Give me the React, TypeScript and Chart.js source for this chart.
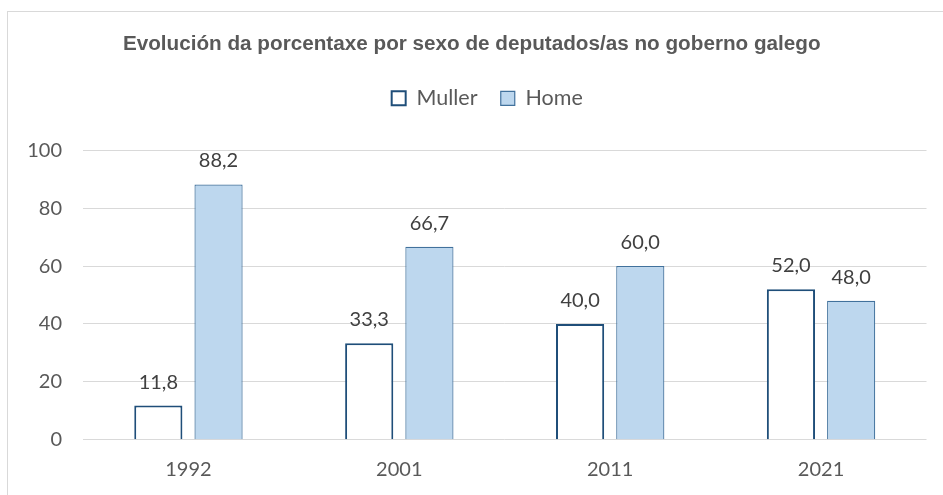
import React, { useEffect, useRef } from "react";
import { Chart, registerables } from "chart.js";

Chart.register(...registerables);

const categories = ["1992", "2001", "2011", "2021"];
const mullerValues = [11.8, 33.3, 40.0, 52.0];
const homeValues = [88.2, 66.7, 60.0, 48.0];
const seriesNames = ["Muller", "Home"];
const titleText = "Evolución da porcentaxe por sexo de deputados/as no goberno galego";

const TEXT = "#595959";
const GRID = "#D9D9D9";

const framePlugin = {
  id: "frame",
  beforeDraw(chart: any) {
    const ctx = chart.ctx;
    ctx.save();
    ctx.fillStyle = "#ffffff";
    ctx.fillRect(0, 0, chart.width, chart.height);
    ctx.strokeStyle = GRID;
    ctx.lineWidth = 1;
    ctx.strokeRect(7.5, 11.5, chart.width + 20, chart.height + 20);
    ctx.restore();
  },
};

const legendSpacePlugin = {
  id: "legendSpace",
  afterInit(chart: any) {
    const legend = chart.legend;
    if (!legend || legend.__patched) return;
    const origFit = legend.fit;
    legend.fit = function () {
      origFit.call(this);
      this.height += 31.25;
    };
    const origDraw = legend.draw;
    legend.draw = function () {
      const ctx = this.ctx;
      ctx.save();
      ctx.translate(15.5, 0);
      origDraw.call(this);
      ctx.restore();
    };
    legend.__patched = true;
  },
};

const valueLabelPlugin = {
  id: "valueLabels",
  afterDatasetsDraw(chart: any) {
    const ctx = chart.ctx;
    ctx.save();
    ctx.font = "20px Lato";
    ctx.fillStyle = "#404040";
    ctx.textAlign = "center";
    ctx.textBaseline = "alphabetic";
    chart.data.datasets.forEach((ds: any, di: number) => {
      const meta = chart.getDatasetMeta(di);
      meta.data.forEach((el: any, i: number) => {
        const v = ds.data[i] as number;
        const txt = v.toFixed(1).replace(".", ",");
        ctx.fillText(txt, el.x, el.y - 17);
      });
    });
    ctx.restore();
  },
};

export default function App() {
  const ref = useRef<HTMLCanvasElement>(null);
  useEffect(() => {
    if (!ref.current) return;
    const chart = new Chart(ref.current, {
      type: "bar",
      data: {
        labels: categories,
        datasets: [
          {
            label: seriesNames[0],
            data: mullerValues,
            backgroundColor: "#FFFFFF",
            borderColor: "#1F4E79",
            borderWidth: 2,
            barPercentage: 0.8,
            categoryPercentage: 0.571,
          },
          {
            label: seriesNames[1],
            data: homeValues,
            backgroundColor: "#BDD7EE",
            borderColor: "#41719C",
            borderWidth: 1.2,
            barPercentage: 0.8,
            categoryPercentage: 0.571,
          },
        ],
      },
      options: {
        responsive: false,
        animation: false,
        layout: { padding: { left: 17, right: 16.5, top: 0, bottom: 13.3 } },
        plugins: {
          title: {
            display: true,
            text: titleText,
            color: TEXT,
            font: { family: "'Liberation Sans', Arial, sans-serif", size: 20.7, weight: "bold", lineHeight: 1.2 },
            padding: { top: 32, bottom: 7.5 },
          },
          legend: {
            display: true,
            position: "top",
            labels: {
              color: TEXT,
              font: { family: "Lato", size: 21.5 },
              boxWidth: 14,
              boxHeight: 14,
              padding: 23.25,
            },
          },
          tooltip: { enabled: false },
        },
        scales: {
          x: {
            grid: { display: false, drawTicks: false },
            border: { display: false },
            ticks: { color: TEXT, font: { family: "Lato", size: 20 }, padding: 18 },
            afterFit(scale: any) {
              scale.height = 42;
            },
          },
          y: {
            min: 0,
            max: 100,
            ticks: { stepSize: 20, color: TEXT, font: { family: "Lato", size: 20 }, padding: 21 },
            grid: { color: GRID, lineWidth: 1, drawTicks: false },
            border: { display: false },
            afterFit(scale: any) {
              scale.width = 66;
            },
          },
        },
      },
      plugins: [framePlugin, legendSpacePlugin, valueLabelPlugin],
    });
    return () => chart.destroy();
  }, []);
  return (
    <div style={{ position: "absolute", left: 0, top: 0, width: 943, height: 495 }}>
      <canvas ref={ref} width={943} height={495} style={{ display: "block" }} />
    </div>
  );
}
